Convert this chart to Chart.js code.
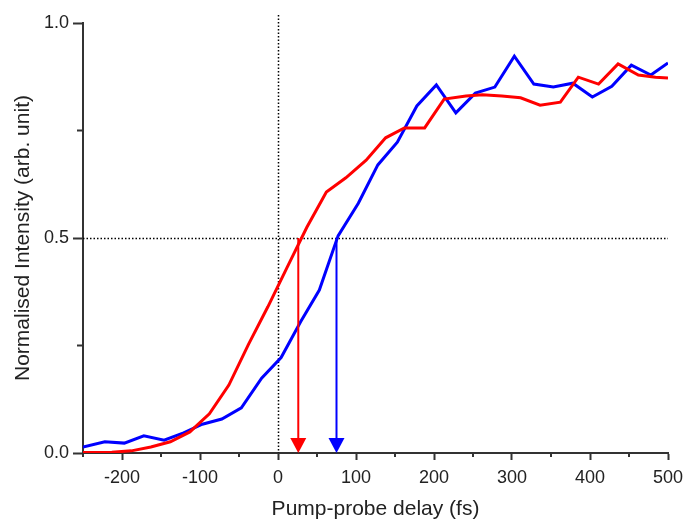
<!DOCTYPE html>
<html><head><meta charset="utf-8">
<script src="https://cdn.jsdelivr.net/npm/chart.js@4"></script>
<style>html,body{margin:0;padding:0;background:#fff}#wrap{width:685px;height:520px}</style>
</head><body><div id="wrap"><canvas id="c" width="685" height="520"></canvas></div>
<script>
const blueDelay = [-250,-222,-197,-172,-146,-121,-97,-72,-47,-21,4,29,53,77,103,128,153,178,203,228,253,278,303,328,353,378,403,428,453,478,500];
const blueIntensity = [0.014,0.026,0.023,0.040,0.030,0.047,0.067,0.079,0.105,0.174,0.222,0.305,0.379,0.505,0.581,0.670,0.723,0.807,0.856,0.791,0.837,0.851,0.923,0.858,0.851,0.860,0.828,0.853,0.902,0.879,0.907];
const redDelay = [-250,-238,-213,-188,-163,-138,-113,-88,-63,-38,-13,12,37,62,87,113,138,162,188,213,241,262,287,311,336,362,385,411,436,462,484,500];
const redIntensity = [0.001,0.001,0.002,0.005,0.014,0.026,0.049,0.091,0.158,0.252,0.340,0.433,0.525,0.607,0.640,0.681,0.733,0.756,0.756,0.823,0.830,0.833,0.830,0.826,0.809,0.816,0.874,0.858,0.905,0.879,0.874,0.872];
const arrowDelays = [26, 75];          // red, blue half-rise delays (fs)
const halfLevel = 0.5;
const zeroDelay = 0;

const toPts = (xs, ys) => xs.map((x, i) => ({x, y: ys[i]}));
const FONT = "'Liberation Sans', Arial, sans-serif";
const AXIS = '#333';
const arrowColors = ['#ff0000', '#0000ff'];

const overlay = {
  id: 'overlay',
  beforeDatasetsDraw(chart) {
    const {ctx, chartArea: a, scales: {x, y}} = chart;
    ctx.save();
    ctx.strokeStyle = '#000';
    ctx.lineWidth = 1.5;
    ctx.setLineDash([1.5, 2]);
    const x0 = Math.round(x.getPixelForValue(zeroDelay)) + 0.5;
    ctx.beginPath(); ctx.moveTo(x0, a.top - 8); ctx.lineTo(x0, a.bottom); ctx.stroke();
    const y5 = Math.round(y.getPixelForValue(halfLevel)) + 0.5;
    ctx.beginPath(); ctx.moveTo(a.left, y5); ctx.lineTo(a.right, y5); ctx.stroke();
    ctx.restore();
  },
  afterDatasetsDraw(chart) {
    const {ctx, scales: {x, y}} = chart;
    ctx.save();
    arrowDelays.forEach((d, i) => {
      const px = x.getPixelForValue(d);
      const yTop = y.getPixelForValue(halfLevel);
      const yBot = y.getPixelForValue(0);
      ctx.strokeStyle = arrowColors[i];
      ctx.fillStyle = arrowColors[i];
      ctx.lineWidth = 2;
      ctx.beginPath(); ctx.moveTo(px, yTop); ctx.lineTo(px, yBot - 12); ctx.stroke();
      ctx.beginPath();
      ctx.moveTo(px - 8, yBot - 15); ctx.lineTo(px + 8, yBot - 15); ctx.lineTo(px, yBot); ctx.closePath(); ctx.fill();
    });
    ctx.restore();
  },
  afterDraw(chart) {
    const {ctx, chartArea: a, scales: {x, y}} = chart;
    ctx.save();
    ctx.strokeStyle = AXIS; ctx.lineWidth = 2;
    x.ticks.forEach(t => {
      if (t.value % 100 !== 0) {
        const px = x.getPixelForValue(t.value);
        ctx.beginPath(); ctx.moveTo(px, a.bottom); ctx.lineTo(px, a.bottom + 4); ctx.stroke();
      }
    });
    y.ticks.forEach(t => {
      if (Math.abs(t.value * 2 - Math.round(t.value * 2)) > 1e-6) {
        const py = y.getPixelForValue(t.value);
        ctx.beginPath(); ctx.moveTo(a.left - 6, py); ctx.lineTo(a.left, py); ctx.stroke();
      }
    });
    ctx.restore();
  }
};

new Chart(document.getElementById('c'), {
  type: 'scatter',
  data: {
    datasets: [
      {data: toPts(redDelay, redIntensity), showLine: true, borderColor: '#ff0000', borderWidth: 3, pointRadius: 0, tension: 0},
      {data: toPts(blueDelay, blueIntensity), showLine: true, borderColor: '#0000ff', borderWidth: 3, pointRadius: 0, tension: 0}
    ]
  },
  options: {
    responsive: false,
    animation: false,
    events: [],
    layout: {padding: {top: 23, right: 17, left: 0, bottom: 0}},
    plugins: {legend: {display: false}, tooltip: {enabled: false}},
    scales: {
      x: {
        type: 'linear', min: -250, max: 500,
        afterFit: s => { s.height = 67; s.paddingLeft = 0; s.paddingRight = 0; },
        ticks: {stepSize: 50, autoSkip: false, maxRotation: 0, padding: 7, color: '#222',
          font: {family: FONT, size: 18},
          callback: v => (v % 100 === 0 ? String(v) : '')},
        grid: {drawOnChartArea: false, drawTicks: true, tickLength: 7, tickWidth: 2,
          tickColor: c => (c.tick && c.tick.value % 100 === 0 ? AXIS : 'rgba(0,0,0,0)')},
        border: {display: true, color: AXIS, width: 2},
        title: {display: true, text: 'Pump-probe delay (fs)', color: '#222',
          font: {family: FONT, size: 21, lineHeight: 1.0}, padding: {top: 0, bottom: 0}}
      },
      y: {
        min: 0, max: 1,
        afterFit: s => { s.width = 83; s.paddingTop = 0; s.paddingBottom = 0; },
        ticks: {stepSize: 0.25, autoSkip: false, padding: 4, color: '#222',
          font: {family: FONT, size: 18},
          callback: v => (Math.abs(v * 2 - Math.round(v * 2)) < 1e-6 ? v.toFixed(1) : '')},
        grid: {drawOnChartArea: false, drawTicks: true, tickLength: 10, tickWidth: 2,
          tickColor: c => (c.tick && Math.abs(c.tick.value * 2 - Math.round(c.tick.value * 2)) < 1e-6 ? AXIS : 'rgba(0,0,0,0)')},
        border: {display: true, color: AXIS, width: 2},
        title: {display: true, text: 'Normalised Intensity (arb. unit)', color: '#222',
          font: {family: FONT, size: 21}, padding: {top: 11, bottom: 0}}
      }
    }
  },
  plugins: [overlay]
});
</script>
</body></html>
